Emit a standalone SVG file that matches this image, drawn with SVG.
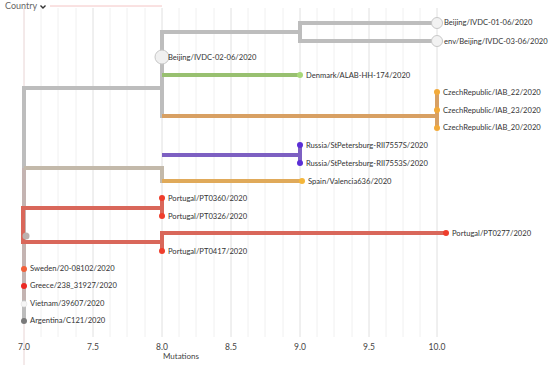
<svg xmlns="http://www.w3.org/2000/svg" width="550" height="365" viewBox="0 0 550 365">
<style>
.g{stroke:#f0f0f0;stroke-width:1}
.gm{stroke:#e0e0e0;stroke-width:1}
.b{fill:none;stroke-width:4;stroke-linecap:butt}
.lbl{font-family:Lato,"Liberation Sans",sans-serif;font-size:7.6px;fill:#333;dominant-baseline:central}
.ax{font-family:Lato,"Liberation Sans",sans-serif;font-size:8.5px;fill:#444;text-anchor:middle}
</style>
<rect width="550" height="365" fill="#fff"/>
<g id="grid">
<line class="g" x1="41" y1="8" x2="41" y2="337"/><line class="g" x1="58" y1="8" x2="58" y2="337"/><line class="g" x1="76" y1="8" x2="76" y2="337"/>
<line class="gm" x1="93" y1="8" x2="93" y2="337"/>
<line class="g" x1="110" y1="8" x2="110" y2="337"/><line class="g" x1="127" y1="8" x2="127" y2="337"/><line class="g" x1="145" y1="8" x2="145" y2="337"/>
<line class="gm" x1="162" y1="8" x2="162" y2="337"/>
<line class="g" x1="179" y1="8" x2="179" y2="337"/><line class="g" x1="196" y1="8" x2="196" y2="337"/><line class="g" x1="214" y1="8" x2="214" y2="337"/>
<line class="gm" x1="231" y1="8" x2="231" y2="337"/>
<line class="g" x1="248" y1="8" x2="248" y2="337"/><line class="g" x1="265" y1="8" x2="265" y2="337"/><line class="g" x1="283" y1="8" x2="283" y2="337"/>
<line class="gm" x1="300" y1="8" x2="300" y2="337"/>
<line class="g" x1="317" y1="8" x2="317" y2="337"/><line class="g" x1="334" y1="8" x2="334" y2="337"/><line class="g" x1="352" y1="8" x2="352" y2="337"/>
<line class="gm" x1="369" y1="8" x2="369" y2="337"/>
<line class="g" x1="386" y1="8" x2="386" y2="337"/><line class="g" x1="403" y1="8" x2="403" y2="337"/><line class="g" x1="420" y1="8" x2="420" y2="337"/>
<line class="gm" x1="437" y1="8" x2="437" y2="337"/>
<line x1="24" y1="8" x2="24" y2="365" stroke="#e8d4d4" stroke-width="1"/>
<line x1="50" y1="6" x2="162" y2="6" stroke="#f4c4c4" stroke-width="1"/>
<text x="5" y="9" font-family="Lato,'Liberation Sans',sans-serif" font-size="9" fill="#666">Country</text>
<path d="M40.5 5.5 L43 8 L45.5 5.5" fill="none" stroke="#333" stroke-width="1.4"/>
<text class="ax" x="24" y="350">7.0</text><text class="ax" x="93" y="350">7.5</text><text class="ax" x="162" y="350">8.0</text>
<text class="ax" x="231" y="350">8.5</text><text class="ax" x="300" y="350">9.0</text><text class="ax" x="369" y="350">9.5</text><text class="ax" x="437" y="350">10.0</text>
<text x="181" y="359" font-family="Lato,'Liberation Sans',sans-serif" font-size="8" fill="#444" text-anchor="middle">Mutations</text>
</g>
<g id="connectors">
<path class="b" stroke="#bdbdbd" stroke-width="5" d="M24 86 V322"/>
<path class="b" stroke="#c4b4b2" stroke-width="5" d="M24 168 V300"/>
<path class="b" stroke="#bdbdbd" d="M22 88 H162 M162 30 V118 M162 32 H300 M300 21 V43 M300 23 H437 M300 41 H437"/>
<path class="b" stroke="#98c070" d="M162 75 H300"/>
<path class="b" stroke="#d8a063" d="M162 116 H437 M437 92 V128"/>
<path class="b" stroke="#c3b9aa" d="M24 168 H162 M162 166 V183"/>
<path class="b" stroke="#7d60c2" d="M162 155 H300 M300 145 V163"/>
<path class="b" stroke="#e0aa5a" d="M162 181 H302"/>
<path class="b" stroke="#d9675a" d="M22 208 H162 M162 198 V216 M23 206 V244 M22 242 H162 M162 231 V251 M162 233 H446"/>
<circle cx="26" cy="236" r="3.5" fill="#bdb1ae"/>
</g>
<g id="n-beijing01"><circle cx="437" cy="23" r="5.5" fill="#f2f2f2" stroke="#c8c8c8"/><text class="lbl" x="444" y="22">Beijing/IVDC-01-06/2020</text></g>
<g id="n-envbeijing"><circle cx="437" cy="41" r="5.5" fill="#f2f2f2" stroke="#c8c8c8"/><text class="lbl" x="444" y="41">env/Beijing/IVDC-03-06/2020</text></g>
<g id="n-beijing02"><circle cx="162" cy="57" r="7" fill="#f0f0f0" stroke="#c8c8c8"/><text class="lbl" x="168" y="57">Beijing/IVDC-02-06/2020</text></g>
<g id="n-denmark"><circle cx="300" cy="75" r="3" fill="#a8d878"/><text class="lbl" x="306" y="75">Denmark/ALAB-HH-174/2020</text></g>
<g id="n-cz22"><circle cx="437" cy="92" r="3" fill="#f2aa3a"/><text class="lbl" x="443" y="92">CzechRepublic/IAB_22/2020</text></g>
<g id="n-cz23"><circle cx="437" cy="110" r="3" fill="#f2aa3a"/><text class="lbl" x="443" y="110">CzechRepublic/IAB_23/2020</text></g>
<g id="n-cz20"><circle cx="437" cy="128" r="3" fill="#f2aa3a"/><text class="lbl" x="443" y="127">CzechRepublic/IAB_20/2020</text></g>
<g id="n-russia1"><circle cx="300" cy="145" r="3" fill="#5b2fd6"/><text class="lbl" x="306" y="145">Russia/StPetersburg-RII7557S/2020</text></g>
<g id="n-russia2"><circle cx="300" cy="163" r="3" fill="#5b2fd6"/><text class="lbl" x="306" y="163">Russia/StPetersburg-RII7553S/2020</text></g>
<g id="n-spain"><circle cx="302" cy="181" r="3" fill="#f4b63a"/><text class="lbl" x="308" y="181">Spain/Valencia636/2020</text></g>
<g id="n-pt0360"><circle cx="162" cy="198" r="3" fill="#ef3e2c"/><text class="lbl" x="168" y="198">Portugal/PT0360/2020</text></g>
<g id="n-pt0326"><circle cx="162" cy="216" r="3" fill="#ef3e2c"/><text class="lbl" x="168" y="216">Portugal/PT0326/2020</text></g>
<g id="n-pt0277"><circle cx="446" cy="233" r="3" fill="#ef3e2c"/><text class="lbl" x="452" y="233">Portugal/PT0277/2020</text></g>
<g id="n-pt0417"><circle cx="162" cy="251" r="3" fill="#ef3e2c"/><text class="lbl" x="168" y="251">Portugal/PT0417/2020</text></g>
<g id="n-sweden"><circle cx="24" cy="269" r="3" fill="#f2603a"/><text class="lbl" x="30" y="268">Sweden/20-08102/2020</text></g>
<g id="n-greece"><circle cx="24" cy="286" r="3" fill="#ec2a24"/><text class="lbl" x="30" y="285">Greece/238_31927/2020</text></g>
<g id="n-vietnam"><circle cx="24" cy="304" r="3" fill="#f6f6f6" stroke="#ddd" stroke-width="0.5"/><text class="lbl" x="30" y="303">Vietnam/39607/2020</text></g>
<g id="n-argentina"><circle cx="24" cy="321" r="3" fill="#7a7a7a"/><text class="lbl" x="30" y="320">Argentina/C121/2020</text></g>
</svg>
